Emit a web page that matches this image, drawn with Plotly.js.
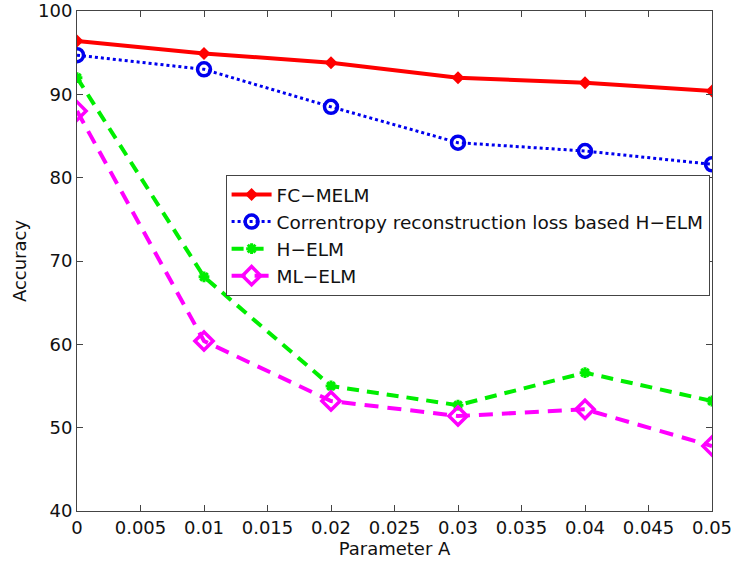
<!DOCTYPE html>
<html>
<head>
<meta charset="utf-8">
<script src="https://cdn.plot.ly/plotly-3.0.1.min.js"></script>
<style>html,body{margin:0;padding:0;background:#fff;}</style>
</head>
<body>
<div id="chart" style="width:733px;height:564px;"></div>
<script>
const paramA = [0, 0.01, 0.02, 0.03, 0.04, 0.05];
const fcMelm = [96.4, 94.9, 93.8, 92.0, 91.4, 90.4];
const correntropy = [94.7, 93.0, 88.5, 84.2, 83.2, 81.6];
const hElm = [92.0, 68.1, 55.0, 52.7, 56.6, 53.2];
const mlElm = [88.0, 60.4, 53.2, 51.4, 52.2, 47.8];
const xTicks = [0, 0.005, 0.01, 0.015, 0.02, 0.025, 0.03, 0.035, 0.04, 0.045, 0.05];
const xTickText = ['0','0.005','0.01','0.015','0.02','0.025','0.03','0.035','0.04','0.045','0.05'];
const yTicks = [40, 50, 60, 70, 80, 90, 100];

const FONT = 'DejaVu Sans, sans-serif';

const traces = [
  {x: paramA, y: fcMelm, name: 'FC\u2212MELM', mode: 'lines+markers',
   line: {color: '#ff0000', width: 4, dash: 'solid'},
   marker: {symbol: 'diamond', size: 10, color: '#ff0000'}},
  {x: paramA, y: correntropy, name: 'Correntropy reconstruction loss based H\u2212ELM', mode: 'lines+markers',
   line: {color: '#0000ee', width: 3, dash: 'dot'},
   marker: {symbol: 'circle-open', size: 13, color: '#0000ee', line: {width: 3.5, color: '#0000ee'}}},
  {x: paramA, y: hElm, name: 'H\u2212ELM', mode: 'lines+markers',
   line: {color: '#00ee00', width: 4, dash: '12px,8px'},
   marker: {symbol: 'asterisk-open', size: 9, color: '#00ee00', line: {width: 3, color: '#00ee00'}}},
  {x: paramA, y: mlElm, name: 'ML\u2212ELM', mode: 'lines+markers',
   line: {color: '#ff00ff', width: 4, dash: '14px,9px'},
   marker: {symbol: 'diamond-open', size: 14, color: '#ff00ff', line: {width: 3.5, color: '#ff00ff'}}}
];

const axisCommon = {
  showgrid: false, zeroline: false, showline: true, mirror: 'ticks',
  linecolor: '#444', linewidth: 1, ticks: 'inside', ticklen: 6, tickcolor: '#444',
  tickfont: {family: FONT, size: 18, color: '#111'}
};

const layout = {
  width: 733, height: 564,
  margin: {l: 77, r: 21, t: 11, b: 53},
  paper_bgcolor: '#fff', plot_bgcolor: '#fff',
  font: {family: FONT, size: 18, color: '#111'},
  showlegend: true,
  legend: {x: 0.234, y: 0.672, xanchor: 'left', yanchor: 'top',
    bgcolor: '#fff', bordercolor: '#444', borderwidth: 1,
    font: {family: FONT, size: 18.5, color: '#111'},
    tracegroupgap: 0, itemwidth: 40},
  xaxis: Object.assign({}, axisCommon, {
    range: [0, 0.05], tickvals: xTicks, ticktext: xTickText,
    title: {text: 'Parameter A', standoff: 1, font: {size: 18}}
  }),
  yaxis: Object.assign({}, axisCommon, {
    range: [40, 100], tickvals: yTicks,
    title: {text: 'Accuracy', standoff: 6, font: {size: 18}}
  })
};

Plotly.newPlot('chart', traces, layout, {displayModeBar: false, staticPlot: true});
</script>
</body>
</html>
